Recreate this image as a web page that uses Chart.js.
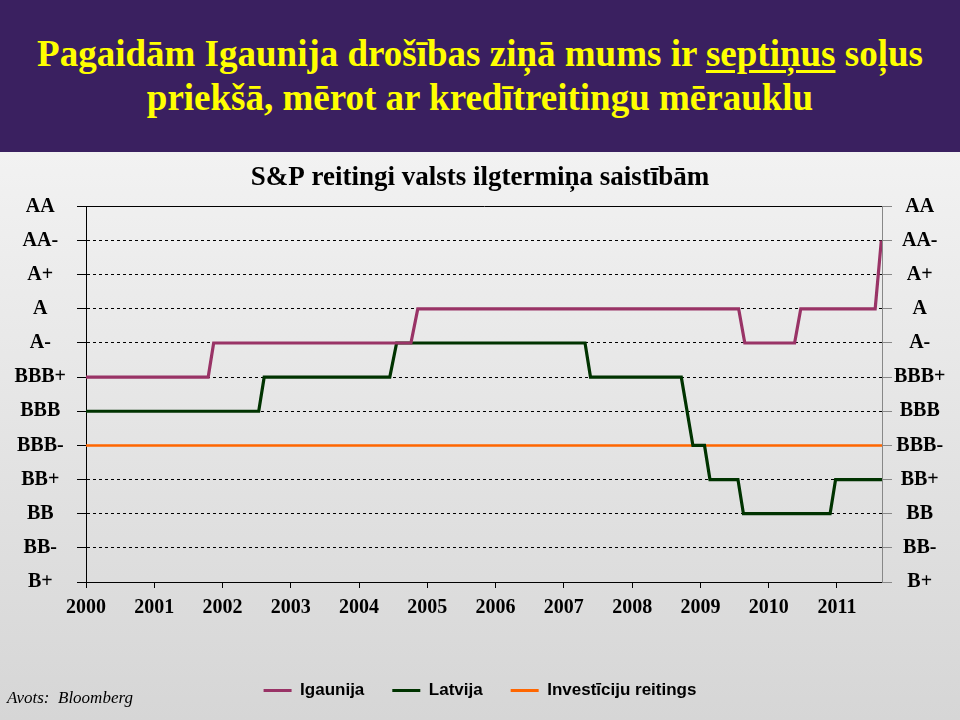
<!DOCTYPE html>
<html><head><meta charset="utf-8">
<script src="https://cdn.jsdelivr.net/npm/chart.js@4"></script>
<style>
html,body{margin:0;padding:0;}
body{width:960px;height:720px;position:relative;overflow:hidden;background:#d8d8d8;}
#hdr{position:absolute;left:0;top:0;width:960px;height:152px;background:#3a2060;}
#hdr .t{position:absolute;left:0;top:32px;width:960px;text-align:center;color:#ffff00;font:bold 37px/44px "Liberation Serif","Times New Roman",serif;white-space:nowrap;}
#hdr .t u{text-decoration-thickness:3px;text-underline-offset:4px;}
#wrap{position:absolute;left:0;top:152px;width:960px;height:568px;background:linear-gradient(#f2f2f2,#d6d6d6);}
#src{position:absolute;left:7px;top:688px;font:italic 17px "Liberation Serif","Times New Roman",serif;color:#000;white-space:pre;}
</style></head>
<body>
<div id="hdr"><div class="t">Pagaidām Igaunija drošības ziņā mums ir <u>septiņus</u> soļus<br>priekšā, mērot ar kredītreitingu mērauklu</div></div>
<div id="wrap"><canvas id="c" width="960" height="568"></canvas></div>
<div id="src">Avots:  Bloomberg</div>
<script>
const levels = ['B+','BB-','BB','BB+','BBB-','BBB','BBB+','A-','A','A+','AA-','AA'];
const years = [2000,2001,2002,2003,2004,2005,2006,2007,2008,2009,2010,2011];
const seriesNames = ['Igaunija','Latvija','Investīciju reitings'];
const estoniaX = [2000, 2001.79, 2001.87, 2004.76, 2004.86, 2009.56, 2009.65, 2010.38, 2010.47, 2011.56, 2011.65];
const estoniaY = [6, 6, 7, 7, 8, 8, 7, 7, 8, 8, 10];
const latviaX = [2000, 2002.53, 2002.61, 2004.45, 2004.55, 2007.31, 2007.39, 2008.72, 2008.89, 2009.06, 2009.14, 2009.55, 2009.63, 2010.90, 2010.98, 2011.66];
const latviaY = [5, 5, 6, 6, 7, 7, 6, 6, 4, 4, 3, 3, 2, 2, 3, 3];
const investX = [2000, 2011.66];
const investY = [4, 4];

function pts(xs, ys){ return xs.map((x,i)=>({x:x, y:ys[i]})); }
const tickFont = {family:'"Liberation Serif","Times New Roman",serif', size:20, weight:'bold'};

new Chart(document.getElementById('c'), {
  type:'line',
  data:{datasets:[
    {label:seriesNames[0], data:pts(estoniaX, estoniaY), borderColor:'#993366', backgroundColor:'#993366', borderWidth:3.2, pointRadius:0, tension:0, yAxisID:'y'},
    {label:seriesNames[1], data:pts(latviaX, latviaY), borderColor:'#003300', backgroundColor:'#003300', borderWidth:3.2, pointRadius:0, tension:0, yAxisID:'y'},
    {label:seriesNames[2], data:pts(investX, investY), borderColor:'#ff6600', backgroundColor:'#ff6600', borderWidth:2.5, pointRadius:0, tension:0, yAxisID:'y'}
  ]},
  options:{
    responsive:false, animation:false,
    layout:{padding:{left:0,right:0,top:0,bottom:11}},
    plugins:{
      title:{display:true, text:'S&P reitingi valsts ilgtermiņa saistībām', color:'#000',
        font:{family:'"Liberation Serif","Times New Roman",serif', size:27, weight:'bold'}, padding:{top:10,bottom:12}},
      legend:{position:'bottom', labels:{boxWidth:28, boxHeight:3, padding:28, color:'#000',
        font:{family:'"Liberation Sans",Arial,sans-serif', size:17, weight:'bold'},
        generateLabels:chart=>Chart.defaults.plugins.legend.labels.generateLabels(chart).map(l=>Object.assign(l,{lineWidth:0}))}},
      tooltip:{enabled:false}
    },
    scales:{
      x:{type:'linear', min:2000, max:2011.66,
        afterBuildTicks:ax=>{ax.ticks = years.map(v=>({value:v}));},
        ticks:{font:tickFont, color:'#000', padding:8, maxRotation:0, autoSkip:false, callback:v=>String(v)},
        grid:{drawOnChartArea:false, tickLength:6, color:'#000'},
        border:{color:'#000', width:1},
        afterFit:s=>{s.height=72;}},
      y:{type:'linear', position:'left', min:0, max:11,
        afterBuildTicks:ax=>{ax.ticks = levels.map((l,i)=>({value:i}));},
        ticks:{callback:v=>levels[v], crossAlign:'center', font:tickFont, color:'#000', padding:11, autoSkip:false},
        grid:{color:'#000', tickLength:9, lineWidth:1},
        border:{color:'#000', width:1, dash:ctx=>(ctx.tick && ctx.tick.value===11) ? [] : [3,3]},
        afterFit:s=>{s.width=86;}},
      y2:{type:'linear', position:'right', min:0, max:11,
        afterBuildTicks:ax=>{ax.ticks = levels.map((l,i)=>({value:i}));},
        ticks:{callback:v=>levels[v], crossAlign:'center', font:tickFont, color:'#000', padding:2, autoSkip:false},
        grid:{drawOnChartArea:false, color:'#888', tickLength:10},
        border:{color:'#888', width:1},
        afterFit:s=>{s.width=78;}}
    }
  }
});
</script>
</body></html>
